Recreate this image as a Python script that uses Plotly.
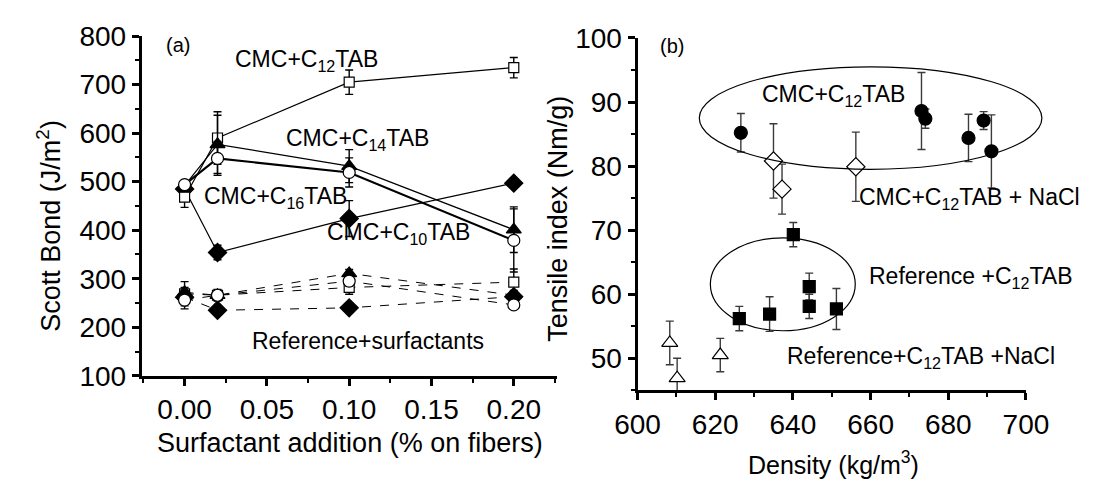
import plotly.graph_objects as go

W, H = 1094, 493

# ---------------- Panel (a) data ----------------
addition = [0.0, 0.02, 0.10, 0.20]
cmc_c12 = [468, 590, 705, 735]
cmc_c12_err = [21, 54, 25, 21]
cmc_c14 = [492, 577, 532, 401]
cmc_c14_err = [8, 60, 34, 47]
cmc_c16 = [494, 548, 519, 379]
cmc_c16_err = [8, 35, 30, 65]
cmc_c10 = [485, 354, 424, 497]
cmc_c10_err = [0, 15, 37, 5]
ref_c12 = [269, 266, 282, 293]
ref_c12_err = [25, 12, 14, 27]
ref_c14 = [272, 266, 311, 266]
ref_c14_err = [10, 8, 8, 10]
ref_c16 = [256, 266, 295, 246]
ref_c16_err = [18, 10, 10, 8]
ref_c10 = [262, 235, 240, 263]
ref_c10_err = [5, 5, 5, 5]
a_xticks = [0.0, 0.05, 0.10, 0.15, 0.20]
a_yticks = [100, 200, 300, 400, 500, 600, 700, 800]

# ---------------- Panel (b) data ----------------
dens_cmc = [626.6, 673.1, 674.1, 685.2, 689.1, 691.1]
ti_cmc = [85.2, 88.6, 87.4, 84.4, 87.1, 82.3]
ti_cmc_err = [3.0, 6.0, 1.5, 3.7, 1.4, 5.7]
dens_cmc_nacl = [635.0, 637.2, 656.2]
ti_cmc_nacl = [80.8, 76.4, 79.9]
ti_cmc_nacl_err = [5.8, 3.9, 5.4]
dens_ref = [626.2, 634.0, 640.1, 644.2, 644.2, 651.2]
ti_ref = [56.2, 56.9, 69.3, 61.2, 58.1, 57.7]
ti_ref_err = [1.9, 2.7, 1.9, 2.1, 1.9, 3.2]
dens_ref_nacl = [608.3, 610.2, 621.3]
ti_ref_nacl = [52.4, 46.9, 50.5]
ti_ref_nacl_err = [3.4, 3.1, 2.6]
b_xticks = [600, 620, 640, 660, 680, 700]
b_yticks = [50, 60, 70, 80, 90, 100]

FONT = "Liberation Sans, Arial, sans-serif"
TICKFONT = "Liberation Sans Narrow, Arial Narrow, Liberation Sans, sans-serif"

fig = go.Figure()


def err(arr, color="black"):
    return dict(type="data", array=arr, color=color, thickness=1.4, width=4)


def add_a(y, e, symbol, fill, dash, lw, size):
    fig.add_trace(go.Scatter(
        x=addition, y=y, mode="lines+markers", xaxis="x", yaxis="y",
        line=dict(color="black", width=lw, dash=dash),
        marker=dict(symbol=symbol, size=size, color=fill,
                    line=dict(color="black", width=1.2)),
        error_y=err(e), showlegend=False))


# dashed reference series
add_a(ref_c10, ref_c10_err, "diamond", "black", "dash", 1, 14)
add_a(ref_c12, ref_c12_err, "square", "white", "dash", 1, 10)
add_a(ref_c14, ref_c14_err, "triangle-up", "black", "dash", 1, 13)
add_a(ref_c16, ref_c16_err, "circle", "white", "dash", 1, 12)
# solid CMC series
add_a(cmc_c10, cmc_c10_err, "diamond", "black", "solid", 1.2, 14)
add_a(cmc_c12, cmc_c12_err, "square", "white", "solid", 1.2, 10)
add_a(cmc_c14, cmc_c14_err, "triangle-up", "black", "solid", 1.2, 13)
add_a(cmc_c16, cmc_c16_err, "circle", "white", "solid", 2.2, 12)


def add_b(x, y, e, symbol, fill, size):
    fig.add_trace(go.Scatter(
        x=x, y=y, mode="markers", xaxis="x2", yaxis="y2",
        marker=dict(symbol=symbol, size=size, color=fill,
                    line=dict(color="black", width=1.2)),
        error_y=err(e, "#3a3a3a"), showlegend=False))


add_b(dens_cmc, ti_cmc, ti_cmc_err, "circle", "black", 13)
add_b(dens_cmc_nacl, ti_cmc_nacl, ti_cmc_nacl_err, "diamond", "white", 14)
add_b(dens_ref, ti_ref, ti_ref_err, "square", "black", 12)
add_b(dens_ref_nacl, ti_ref_nacl, ti_ref_nacl_err, "triangle-up", "white", 14)

# axis geometry (pixels)
ax_a = dict(x0=124, x1=557, y0=385, y1=22.5, xr=[-0.026, 0.226], yr=[100, 800])
ax_b = dict(x0=641.5, x1=1047, y0=400.5, y1=24.5, xr=[600, 700], yr=[45, 100])

axis_common = dict(showline=True, linewidth=3, linecolor="black", mirror=False,
                   showgrid=False, zeroline=False, ticks="outside", ticklen=7,
                   tickwidth=2.5, tickcolor="black",
                   tickfont=dict(family=TICKFONT, size=28, color="black"))

fig.update_layout(
    width=W, height=H, margin=dict(l=0, r=0, t=0, b=0),
    paper_bgcolor="white", plot_bgcolor="white", showlegend=False,
    font=dict(family=FONT, size=23, color="black"),
    xaxis=dict(domain=[ax_a["x0"] / W, ax_a["x1"] / W], range=ax_a["xr"],
               anchor="y", tickvals=a_xticks, tickformat=".2f",
               minor=dict(ticks="outside", ticklen=4, tickwidth=2, dtick=0.025,
                          tick0=0, tickcolor="black"),
               **axis_common),
    yaxis=dict(domain=[1 - ax_a["y0"] / H, 1 - ax_a["y1"] / H], range=ax_a["yr"],
               anchor="x", tickvals=a_yticks,
               minor=dict(ticks="outside", ticklen=4, tickwidth=2, dtick=50,
                          tick0=0, tickcolor="black"),
               **axis_common),
    xaxis2=dict(domain=[ax_b["x0"] / W, ax_b["x1"] / W], range=ax_b["xr"],
                anchor="y2", tickvals=b_xticks,
                minor=dict(ticks="outside", ticklen=4, tickwidth=2, dtick=10,
                           tick0=0, tickcolor="black"),
                **axis_common),
    yaxis2=dict(domain=[1 - ax_b["y0"] / H, 1 - ax_b["y1"] / H], range=ax_b["yr"],
                anchor="x2", tickvals=b_yticks,
                minor=dict(ticks="outside", ticklen=4, tickwidth=2, dtick=5,
                           tick0=0, tickcolor="black"),
                **axis_common),
)


def to_paper(ax, x, y):
    px = ax["x0"] + (x - ax["xr"][0]) / (ax["xr"][1] - ax["xr"][0]) * (ax["x1"] - ax["x0"])
    py = ax["y0"] + (y - ax["yr"][0]) / (ax["yr"][1] - ax["yr"][0]) * (ax["y1"] - ax["y0"])
    return px / W, 1 - py / H


# ellipses in panel (b)
ell_upper = dict(cx=660.0, cy=87.5, rx=44.1, ry=8.0)
ell_lower = dict(cx=637.4, cy=61.55, rx=18.65, ry=7.25)
for e in (ell_upper, ell_lower):
    xa, ya = to_paper(ax_b, e["cx"] - e["rx"], e["cy"] - e["ry"])
    xb, yb = to_paper(ax_b, e["cx"] + e["rx"], e["cy"] + e["ry"])
    fig.add_shape(type="circle", xref="paper", yref="paper",
                  x0=xa, x1=xb, y0=ya, y1=yb,
                  line=dict(color="black", width=1.2), fillcolor="rgba(0,0,0,0)")

LBL = dict(family=FONT, size=23, color="black")


def ann(text, x, y, xref, yref, xanchor="center", size=None):
    f = dict(LBL)
    if size:
        f["size"] = size
    fig.add_annotation(text=text, x=x, y=y, xref=xref, yref=yref, showarrow=False,
                       xanchor=xanchor, yanchor="middle", font=f)


# panel (a) labels
ann("(a)", -0.004, 782, "x", "y", size=20)
ann("CMC+C<sub>12</sub>TAB", 0.0738, 750, "x", "y")
ann("CMC+C<sub>14</sub>TAB", 0.105, 586, "x", "y")
ann("CMC+C<sub>16</sub>TAB", 0.0552, 467, "x", "y")
ann("CMC+C<sub>10</sub>TAB", 0.130, 393, "x", "y")
ann("Reference+surfactants", 0.1117, 171, "x", "y")

# panel (b) labels
ann("(b)", 609, 98.8, "x2", "y2", size=20)
ann("CMC+C<sub>12</sub>TAB", 650.5, 91.0, "x2", "y2")
ann("CMC+C<sub>12</sub>TAB + NaCl", 656.5, 75.0, "x2", "y2", xanchor="left")
ann("Reference +C<sub>12</sub>TAB", 659.2, 62.6, "x2", "y2", xanchor="left")
ann("Reference+C<sub>12</sub>TAB +NaCl", 638.0, 50.1, "x2", "y2", xanchor="left")

# axis titles
TT = dict(family=FONT, size=27, color="black")
fig.add_annotation(text="Scott Bond (J/m<sup>2</sup>)", x=27 / W, y=1 - 225 / H,
                   xref="paper", yref="paper", showarrow=False, textangle=-90,
                   xanchor="center", yanchor="middle", font=TT)
fig.add_annotation(text="Surfactant addition (% on fibers)", x=341 / W, y=1 - 457 / H,
                   xref="paper", yref="paper", showarrow=False,
                   xanchor="center", yanchor="middle", font=TT)
fig.add_annotation(text="Tensile index (Nm/g)", x=559 / W, y=1 - 217 / H,
                   xref="paper", yref="paper", showarrow=False, textangle=-90,
                   xanchor="center", yanchor="middle", font=TT)
fig.add_annotation(text="Density (kg/m<sup>3</sup>)", x=846 / W, y=1 - 478 / H,
                   xref="paper", yref="paper", showarrow=False,
                   xanchor="center", yanchor="middle", font=dict(TT, size=25))

fig.write_html("out.html")
